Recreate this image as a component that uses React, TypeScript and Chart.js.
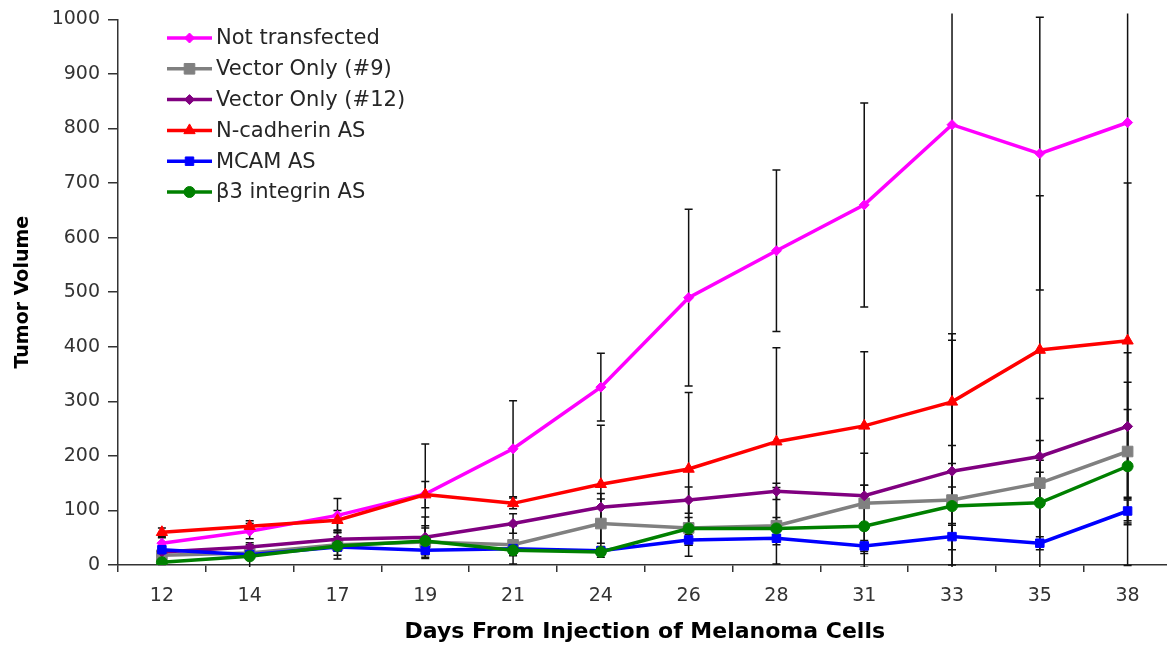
import React, { useEffect, useRef } from 'react';
import { Chart, registerables } from 'chart.js';
import { drawPoint } from 'chart.js/helpers';

Chart.register(...registerables);

// ---- Data ----
const days = ['12', '14', '17', '19', '21', '24', '26', '28', '31', '33', '35', '38'];

const notTransfected = [40, 62, 91, 130, 213, 326, 490, 576, 660, 807, 754, 811];
const notTransfectedErr = [10, 14, 31, 92, 88, 62, 162, 148, 187, 807, 250, 812];

const vectorOnly9 = [18, 22, 37, 42, 37, 76, 68, 72, 113, 119, 150, 208];
const vectorOnly9Err = [6, 10, 26, 30, 35, 45, 52, 70, 92, 305, 155, 127];

const vectorOnly12 = [24, 33, 47, 51, 76, 106, 119, 135, 127, 172, 199, 254];
const vectorOnly12Err = [6, 8, 12, 37, 18, 25, 24, 15, 19, 47, 29, 135];

const nCadherinAS = [60, 71, 82, 129, 113, 148, 176, 226, 255, 299, 394, 411];
const nCadherinASErr = [8, 10, 18, 24, 10, 108, 140, 172, 136, 113, 283, 289];

const mcamAS = [28, 19, 33, 27, 30, 26, 46, 49, 35, 52, 40, 99];
const mcamASErr = [5, 5, 8, 8, 8, 6, 10, 12, 10, 24, 12, 25];

const beta3IntegrinAS = [5, 16, 35, 44, 27, 24, 67, 67, 71, 108, 114, 181];
const beta3IntegrinASErr = [4, 21, 17, 24, 10, 10, 20, 20, 75, 35, 78, 104];

const yTicks = [0, 100, 200, 300, 400, 500, 600, 700, 800, 900, 1000];
const yTickLabels = ['0', '100', '200', '300', '400', '500', '600', '700', '800', '900', '1000'];

const seriesLabels = ['Not transfected', 'Vector Only (#9)', 'Vector Only (#12)', 'N-cadherin AS', 'MCAM AS', 'β3 integrin AS'];
const seriesValues = [notTransfected, vectorOnly9, vectorOnly12, nCadherinAS, mcamAS, beta3IntegrinAS];
const seriesErrors = [notTransfectedErr, vectorOnly9Err, vectorOnly12Err, nCadherinASErr, mcamASErr, beta3IntegrinASErr];

// ---- Styles ----
const seriesColors = ['#FF00FF', '#808080', '#800080', '#FF0000', '#0000FF', '#008000'];
const seriesMarkers = ['rectRot', 'rect', 'rectRot', 'triangle', 'rect', 'circle'];
const seriesMarkerRadius = [5, 7.5, 5, 6.5, 6, 5.5];

const errorBarPlugin = {
  id: 'errorBars',
  beforeDatasetsDraw(chart: any) {
    const { ctx, chartArea } = chart;
    const xs = chart.scales.x;
    const ys = chart.scales.y;
    ctx.save();
    ctx.beginPath();
    ctx.rect(chartArea.left, chartArea.top - 6, chartArea.right - chartArea.left, chartArea.bottom - chartArea.top + 8);
    ctx.clip();
    ctx.strokeStyle = '#111';
    ctx.lineWidth = 1.5;
    seriesValues.forEach((vals, si) => {
      const errs = seriesErrors[si];
      vals.forEach((v, i) => {
        const e = errs[i];
        const px = xs.getPixelForValue(i);
        const top = ys.getPixelForValue(v + e);
        const bot = ys.getPixelForValue(v - e);
        ctx.beginPath();
        ctx.moveTo(px, top);
        ctx.lineTo(px, bot);
        ctx.moveTo(px - 4, top);
        ctx.lineTo(px + 4, top);
        ctx.moveTo(px - 4, bot);
        ctx.lineTo(px + 4, bot);
        ctx.stroke();
      });
    });
    ctx.restore();
  },
};

const insideLegendPlugin = {
  id: 'insideLegend',
  afterDraw(chart: any) {
    const ctx = chart.ctx;
    const lineStart = 167;
    const lineEnd = 212;
    const textX = 216;
    const firstRow = 38;
    const rowGap = 30.8;
    chart.data.datasets.forEach((ds: any, i: number) => {
      const y = firstRow + rowGap * i;
      ctx.save();
      ctx.strokeStyle = ds.borderColor;
      ctx.lineWidth = 3.5;
      ctx.beginPath();
      ctx.moveTo(lineStart, y);
      ctx.lineTo(lineEnd, y);
      ctx.stroke();
      ctx.fillStyle = ds.backgroundColor;
      ctx.strokeStyle = ds.borderColor;
      ctx.lineWidth = 1;
      drawPoint(ctx, { pointStyle: ds.pointStyle, radius: ds.pointRadius, rotation: 0, borderWidth: 1 }, (lineStart + lineEnd) / 2, y);
      ctx.fillStyle = '#262626';
      ctx.font = '21px "DejaVu Sans"';
      ctx.textBaseline = 'middle';
      ctx.textAlign = 'left';
      ctx.fillText(ds.label, textX, y + 1);
      ctx.restore();
    });
  },
};

export default function App() {
  const canvasRef = useRef<HTMLCanvasElement | null>(null);

  useEffect(() => {
    const canvas = canvasRef.current;
    if (!canvas) return;
    const datasets = seriesLabels.map((label, i) => ({
      label,
      data: seriesValues[i],
      borderColor: seriesColors[i],
      backgroundColor: seriesColors[i],
      borderWidth: 3.5,
      pointStyle: seriesMarkers[i],
      pointRadius: seriesMarkerRadius[i],
      pointBorderWidth: 1,
      pointBackgroundColor: seriesColors[i],
      pointBorderColor: seriesColors[i],
      tension: 0,
      fill: false,
      order: seriesLabels.length - i,
    }));

    const chart = new Chart(canvas, {
      type: 'line',
      data: { labels: days, datasets },
      plugins: [errorBarPlugin, insideLegendPlugin],
      options: {
        responsive: false,
        animation: false,
        devicePixelRatio: 1,
        layout: { padding: { top: 18, right: 6, left: 0, bottom: 0 } },
        plugins: {
          legend: { display: false },
          tooltip: { enabled: false },
        },
        scales: {
          x: {
            type: 'category',
            offset: true,
            afterFit: (s: any) => { s.height = 80; },
            grid: { offset: true, drawOnChartArea: false, drawTicks: true, tickLength: 7, color: '#333', lineWidth: 1.5 },
            border: { display: true, color: '#333', width: 1.5 },
            ticks: { font: { family: 'DejaVu Sans', size: 19 }, color: '#333', padding: 13, maxRotation: 0, autoSkip: false },
            title: {
              display: true,
              text: 'Days From Injection of Melanoma Cells',
              font: { family: 'DejaVu Sans', size: 22, weight: 'bold' },
              color: '#000',
              padding: { top: 0, bottom: 0 },
            },
          },
          y: {
            min: 0,
            max: 1000,
            afterFit: (s: any) => { s.width = 118; },
            afterBuildTicks: (s: any) => { s.ticks = yTicks.map((v) => ({ value: v })); },
            grid: { drawOnChartArea: false, drawTicks: true, tickLength: 10, color: '#333', lineWidth: 1.5 },
            border: { display: true, color: '#333', width: 1.5 },
            ticks: {
              font: { family: 'DejaVu Sans', size: 19 },
              color: '#333',
              padding: 8,
              callback: (_v: any, idx: number) => yTickLabels[idx],
            },
            title: {
              display: true,
              text: 'Tumor Volume',
              font: { family: 'DejaVu Sans', size: 19, weight: 'bold' },
              color: '#000',
              padding: { top: 12, bottom: 0 },
            },
          },
        },
      } as any,
    });
    return () => chart.destroy();
  }, []);

  return (
    <div style={{ position: 'fixed', left: 0, top: 0, width: 1167, height: 645, overflow: 'hidden', background: '#fff' }}>
      <canvas ref={canvasRef} width={1180} height={645} style={{ display: 'block', width: 1180, height: 645 }} />
    </div>
  );
}
